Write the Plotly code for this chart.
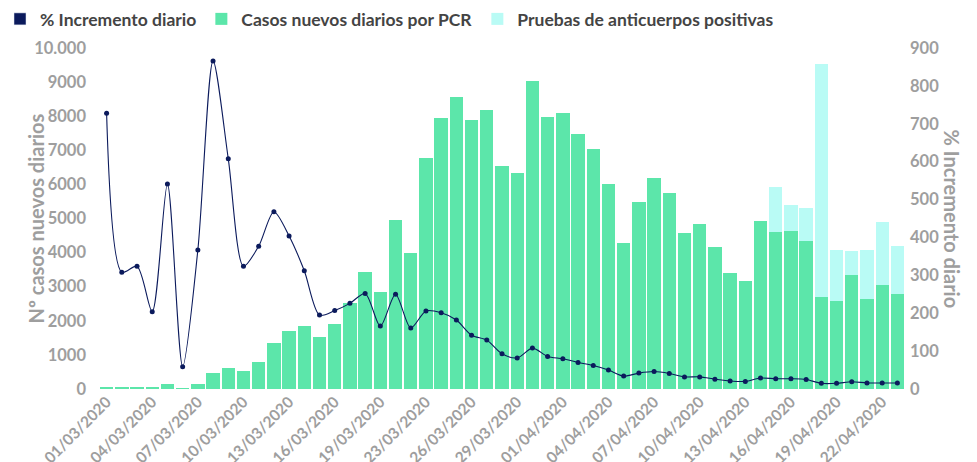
import plotly.graph_objects as go
from datetime import date, timedelta

# Categories: 01/03/2020 .. 23/04/2020, 22/03 not present in source
_all = [date(2020, 3, 1) + timedelta(days=i) for i in range(54)]
dates = [d.strftime("%d/%m/%Y") for d in _all if d != date(2020, 3, 22)]

pcr_cases = [60, 40, 45, 45, 140, 20, 150, 470, 607, 519, 801, 1349, 1710, 1856, 1516,
             1897, 2513, 3431, 2836, 4947, 3988, 6765, 7937, 8572, 7879, 8191, 6548, 6343,
             9023, 7968, 8102, 7469, 7029, 6020, 4282, 5484, 6188, 5757, 4584, 4839, 4174,
             3392, 3157, 4917, 4614, 4643, 4331, 2698, 2589, 3352, 2648, 3059, 2795]

antibody_pos = [0] * 44 + [1310, 762, 977, 6824, 1496, 695, 1437, 1838, 1407]

pct_increase = [728, 308, 324, 204, 541, 59, 367, 866, 608, 324, 377, 468, 404, 312, 195,
                207, 226, 252, 166, 250, 161, 206, 201, 182, 142, 129, 93, 82, 108, 86,
                80, 70, 62, 50, 34, 42, 46, 41, 32, 32, 26, 21, 20, 29, 27, 27, 25, 15, 15,
                19, 16, 16, 16]

left_ticks = [0, 1000, 2000, 3000, 4000, 5000, 6000, 7000, 8000, 9000, 10000]
left_tick_text = ["0", "1000", "2000", "3000", "4000", "5000", "6000", "7000", "8000", "9000", "10.000"]
right_ticks = [0, 100, 200, 300, 400, 500, 600, 700, 800, 900]

GREEN = "#5ce6aa"
CYAN = "#b9fbf5"
NAVY = "#0b1a5c"
GRAY = "#9e9e9e"
FONT = "Lato"

# page body adds an 8px offset; figure coordinates below compensate for it
ML, MR, MT, MB = 91, 80, 40, 81
PLOT_W = 977 - ML - MR
PLOT_H = 462 - MT - MB

fig = go.Figure()

# legend-only swatch for the line series (rectangular like the original)
fig.add_trace(go.Bar(x=[None], y=[None], name="% Incremento diario",
                     marker_color=NAVY, showlegend=True))
fig.add_trace(go.Bar(x=dates, y=pcr_cases, name="Casos nuevos diarios por PCR",
                     marker=dict(color=GREEN, line=dict(width=0))))
fig.add_trace(go.Bar(x=dates, y=antibody_pos, name="Pruebas de anticuerpos positivas",
                     marker=dict(color=CYAN, line=dict(width=0))))
fig.add_trace(go.Scatter(x=dates, y=pct_increase, yaxis="y2", mode="lines+markers",
                         line=dict(color=NAVY, width=1.1, shape="spline", smoothing=0.8),
                         marker=dict(color=NAVY, size=5),
                         name="% Incremento diario", showlegend=False))

fig.update_layout(
    width=977, height=462,
    margin=dict(l=ML, r=MR, t=MT, b=MB, autoexpand=False),
    paper_bgcolor="white", plot_bgcolor="white",
    barmode="stack", bargap=0.12,
    font=dict(family=FONT, color=GRAY, size=15),
    legend=dict(orientation="h", xref="paper", yref="paper",
                x=(-8 - ML) / PLOT_W, y=1 + 47 / PLOT_H, xanchor="left", yanchor="top",
                font=dict(family=FONT, size=17.5, color="#444444", weight="bold"),
                traceorder="normal", itemwidth=30),
    xaxis=dict(type="category", tickangle=-45, tickmode="array",
               tickvals=dates[::3], ticktext=dates[::3], automargin=False,
               tickfont=dict(family=FONT, size=15.5, color=GRAY, weight="bold"),
               showgrid=False, zeroline=False, showline=False, ticks="",
               range=[-0.5, len(dates) - 0.5]),
    yaxis=dict(range=[0, 10000], tickmode="array", tickvals=left_ticks, ticktext=left_tick_text,
               tickfont=dict(family=FONT, size=16.5, color=GRAY, weight="bold"),
               automargin=False, ticklabelstandoff=12,
               showgrid=False, zeroline=False, showline=False, ticks=""),
    yaxis2=dict(range=[0, 900], overlaying="y", side="right", tickmode="array",
                tickvals=right_ticks, automargin=False, ticklabelstandoff=4,
                tickfont=dict(family=FONT, size=16.5, color=GRAY, weight="bold"),
                showgrid=False, zeroline=False, showline=False, ticks=""),
    annotations=[
        dict(text="Nº casos nuevos diarios", xref="paper", yref="paper",
             x=(27 - ML) / PLOT_W, y=0.5, textangle=-90, showarrow=False,
             xanchor="center", yanchor="middle",
             font=dict(family=FONT, size=20, color=GRAY, weight="bold")),
        dict(text="% Incremento diario", xref="paper", yref="paper",
             x=(944 - ML) / PLOT_W, y=0.5, textangle=90, showarrow=False,
             xanchor="center", yanchor="middle",
             font=dict(family=FONT, size=20, color=GRAY, weight="bold")),
    ],
)

fig.write_html("out.html")
